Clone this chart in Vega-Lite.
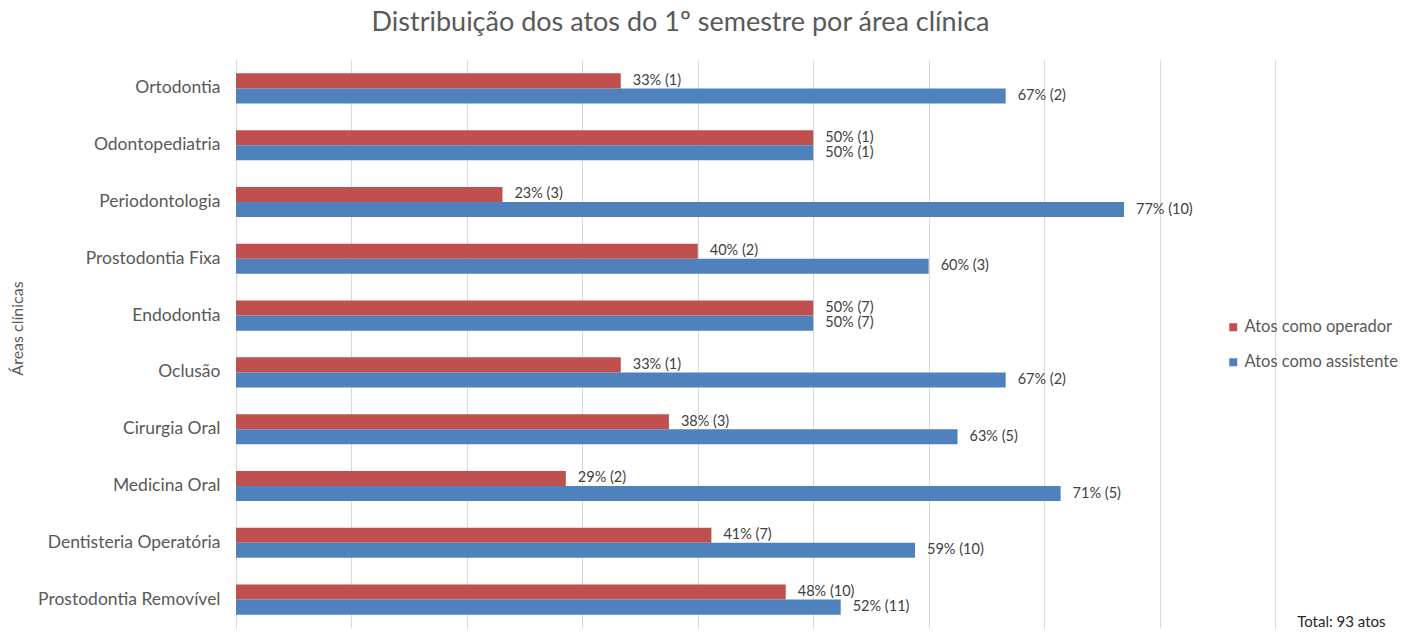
{
  "$schema": "https://vega.github.io/schema/vega-lite/v6.json",
  "width": 1039,
  "height": 568,
  "autosize": {"type": "none"},
  "padding": {"left": 236, "top": 60, "right": 146, "bottom": 9},
  "background": "white",
  "config": {"view": {"stroke": null}, "font": "Lato"},
  "title": {
    "text": "Distribuição dos atos do 1º semestre por área clínica",
    "anchor": "middle",
    "frame": "group",
    "dx": -75,
    "fontSize": 27,
    "font": "Lato",
    "fontWeight": "normal",
    "color": "#595959",
    "offset": 23
  },
  "data": {
    "values": [
      {"area": "Ortodontia", "tipo": "Atos como operador", "pct": 0.3333, "rotulo": "33% (1)"},
      {"area": "Ortodontia", "tipo": "Atos como assistente", "pct": 0.6667, "rotulo": "67% (2)"},
      {"area": "Odontopediatria", "tipo": "Atos como operador", "pct": 0.5, "rotulo": "50% (1)"},
      {"area": "Odontopediatria", "tipo": "Atos como assistente", "pct": 0.5, "rotulo": "50% (1)"},
      {"area": "Periodontologia", "tipo": "Atos como operador", "pct": 0.2308, "rotulo": "23% (3)"},
      {"area": "Periodontologia", "tipo": "Atos como assistente", "pct": 0.7692, "rotulo": "77% (10)"},
      {"area": "Prostodontia Fixa", "tipo": "Atos como operador", "pct": 0.4, "rotulo": "40% (2)"},
      {"area": "Prostodontia Fixa", "tipo": "Atos como assistente", "pct": 0.6, "rotulo": "60% (3)"},
      {"area": "Endodontia", "tipo": "Atos como operador", "pct": 0.5, "rotulo": "50% (7)"},
      {"area": "Endodontia", "tipo": "Atos como assistente", "pct": 0.5, "rotulo": "50% (7)"},
      {"area": "Oclusão", "tipo": "Atos como operador", "pct": 0.3333, "rotulo": "33% (1)"},
      {"area": "Oclusão", "tipo": "Atos como assistente", "pct": 0.6667, "rotulo": "67% (2)"},
      {"area": "Cirurgia Oral", "tipo": "Atos como operador", "pct": 0.375, "rotulo": "38% (3)"},
      {"area": "Cirurgia Oral", "tipo": "Atos como assistente", "pct": 0.625, "rotulo": "63% (5)"},
      {"area": "Medicina Oral", "tipo": "Atos como operador", "pct": 0.2857, "rotulo": "29% (2)"},
      {"area": "Medicina Oral", "tipo": "Atos como assistente", "pct": 0.7143, "rotulo": "71% (5)"},
      {"area": "Dentisteria Operatória", "tipo": "Atos como operador", "pct": 0.4118, "rotulo": "41% (7)"},
      {"area": "Dentisteria Operatória", "tipo": "Atos como assistente", "pct": 0.5882, "rotulo": "59% (10)"},
      {"area": "Prostodontia Removível", "tipo": "Atos como operador", "pct": 0.4762, "rotulo": "48% (10)"},
      {"area": "Prostodontia Removível", "tipo": "Atos como assistente", "pct": 0.5238, "rotulo": "52% (11)"}
    ]
  },
  "encoding": {
    "y": {
      "field": "area",
      "type": "nominal",
      "sort": ["Ortodontia", "Odontopediatria", "Periodontologia", "Prostodontia Fixa", "Endodontia", "Oclusão", "Cirurgia Oral", "Medicina Oral", "Dentisteria Operatória", "Prostodontia Removível"],
      "scale": {"paddingInner": 0.47, "paddingOuter": 0.235},
      "axis": {
        "title": "Áreas clínicas",
        "titleX": -219,
        "titleY": 268,
        "titleAngle": -90,
        "titleAlign": "center",
        "titleBaseline": "middle",
        "titleFontSize": 16,
        "titleFont": "Lato",
        "titleFontWeight": "normal",
        "titleColor": "#595959",
        "labelFontSize": 17.5,
        "labelFont": "Lato",
        "labelColor": "#595959",
        "labelLimit": 400,
        "ticks": false,
        "labelPadding": 16,
        "domainColor": "#d9d9d9"
      }
    },
    "yOffset": {
      "field": "tipo",
      "type": "nominal",
      "sort": ["Atos como operador", "Atos como assistente"]
    },
    "x": {
      "field": "pct",
      "type": "quantitative",
      "scale": {"domain": [0, 0.9], "nice": false},
      "axis": {
        "values": [0, 0.1, 0.2, 0.3, 0.4, 0.5, 0.6, 0.7, 0.8, 0.9],
        "labels": false,
        "ticks": false,
        "domain": false,
        "grid": true,
        "gridColor": "#d9d9d9",
        "title": "Total: 93 atos",
        "titleX": 1149,
        "titleY": -2,
        "titleAlign": "right",
        "titleAnchor": null,
        "titleBaseline": "alphabetic",
        "titleFontSize": 15,
        "titleFont": "Lato",
        "titleFontWeight": "normal",
        "titleColor": "#262626"
      }
    }
  },
  "layer": [
    {
      "mark": {"type": "bar"},
      "encoding": {
        "color": {
          "field": "tipo",
          "type": "nominal",
          "scale": {"domain": ["Atos como operador", "Atos como assistente"], "range": ["#C0504D", "#4F81BD"]},
          "legend": {
            "orient": "none",
            "legendX": 989,
            "legendY": 259,
            "title": null,
            "symbolType": "square",
            "symbolSize": 64,
            "labelFontSize": 16.5,
            "labelFont": "Lato",
            "labelColor": "#595959",
            "rowPadding": 18,
            "labelOffset": 3
          }
        }
      }
    },
    {
      "mark": {"type": "text", "align": "left", "baseline": "middle", "dx": 12, "fontSize": 14.5, "font": "Lato", "color": "#404040"},
      "encoding": {
        "text": {"field": "rotulo", "type": "nominal"}
      }
    }
  ]
}
